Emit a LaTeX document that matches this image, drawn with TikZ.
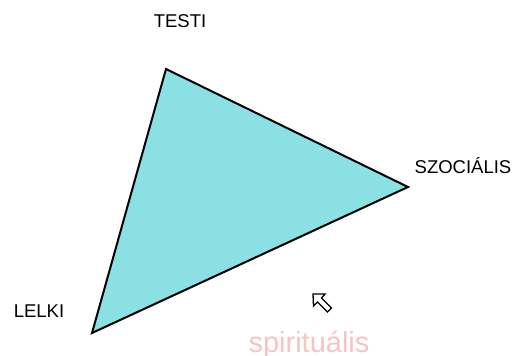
\documentclass[tikz,border=0pt]{standalone}
\usepackage{fontspec}
\setmainfont{Liberation Sans}
\begin{document}
\begin{tikzpicture}[x=1pt,y=-1pt,
  lbl/.style={font=\fontsize{18.5}{20}\selectfont, inner sep=0pt, text=black},
  tri/.style={draw=black, line width=2pt, fill={rgb,255:red,138;green,224;blue,226}, line join=miter}]
\useasboundingbox (0,0) rectangle (514,356);
\coordinate (t) at (166,69);
\coordinate (s) at (408,187);
\coordinate (l) at (92,333);
\draw[tri] (t) -- (s) -- (l) -- cycle;
\node[lbl] (testi) at (180,21) {TESTI};
\node[lbl] (szoc) at (463,166) {SZOCIÁLIS};
\node[lbl] (lelki) at (39,311) {LELKI};
\node[font=\fontsize{29}{31}\selectfont, text={rgb,255:red,246;green,196;blue,196}, anchor=base, inner sep=0pt] (spir) at (309,352) {spirituális};
\draw[line width=1.3pt, fill=white, line join=miter]
  (313,294) -- (313.5,306) -- (317.5,302) -- (327.5,312) -- (331.5,308) -- (321.5,298) -- (325,294) -- cycle;
\end{tikzpicture}
\end{document}
